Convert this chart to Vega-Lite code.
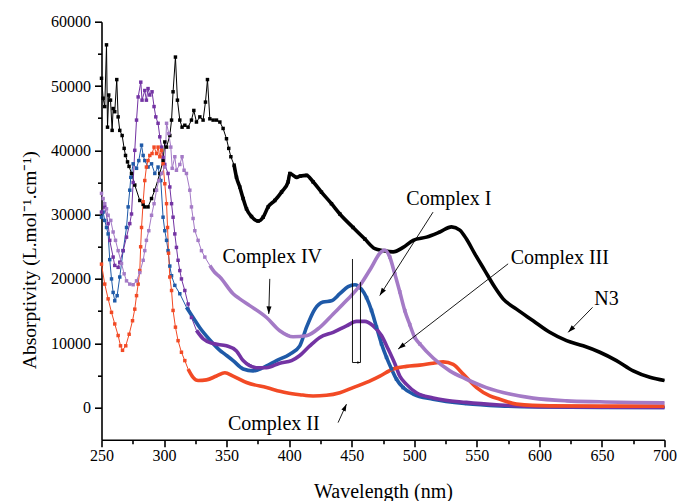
{
  "$schema": "https://vega.github.io/schema/vega-lite/v6.json",
  "width": 563,
  "height": 418,
  "autosize": "none",
  "padding": {"left": 101.5, "top": 21.7, "right": 13.5, "bottom": 61.3},
  "background": "white",
  "config": {
    "view": {"stroke": null},
    "font": "Liberation Serif",
    "axis": {
      "grid": false,
      "domainColor": "black",
      "domainWidth": 1.6,
      "tickColor": "black",
      "tickWidth": 1.6,
      "labelColor": "black",
      "labelFont": "Liberation Serif",
      "labelFontSize": 16,
      "titleFont": "Liberation Serif",
      "titleFontSize": 20,
      "titleFontWeight": "normal",
      "titleColor": "black",
      "labelOverlap": false,
      "labelFlush": false
    }
  },
  "datasets": {
    "spectra": [
      {"s": "N3", "nm": 250, "v": 51200}, {"s": "N3", "nm": 251.3, "v": 48100}, {"s": "N3", "nm": 252.6, "v": 46800},
      {"s": "N3", "nm": 254, "v": 56400}, {"s": "N3", "nm": 254.8, "v": 43600}, {"s": "N3", "nm": 255.8, "v": 48600},
      {"s": "N3", "nm": 257.2, "v": 47800}, {"s": "N3", "nm": 258.5, "v": 43100}, {"s": "N3", "nm": 259.3, "v": 46500},
      {"s": "N3", "nm": 260.6, "v": 46000}, {"s": "N3", "nm": 262.2, "v": 51000}, {"s": "N3", "nm": 263.3, "v": 45200},
      {"s": "N3", "nm": 264.6, "v": 43100}, {"s": "N3", "nm": 266.5, "v": 42300}, {"s": "N3", "nm": 268.1, "v": 40300},
      {"s": "N3", "nm": 269.2, "v": 39200}, {"s": "N3", "nm": 270.8, "v": 38200}, {"s": "N3", "nm": 272, "v": 37500},
      {"s": "N3", "nm": 274, "v": 36400}, {"s": "N3", "nm": 276.6, "v": 34600}, {"s": "N3", "nm": 280.6, "v": 32200},
      {"s": "N3", "nm": 283.3, "v": 31600}, {"s": "N3", "nm": 284.6, "v": 31200}, {"s": "N3", "nm": 287.2, "v": 31200},
      {"s": "N3", "nm": 290, "v": 32500}, {"s": "N3", "nm": 292.6, "v": 33800}, {"s": "N3", "nm": 296.6, "v": 36400},
      {"s": "N3", "nm": 299.2, "v": 38400}, {"s": "N3", "nm": 300.6, "v": 41300}, {"s": "N3", "nm": 302, "v": 40500},
      {"s": "N3", "nm": 304.6, "v": 42300}, {"s": "N3", "nm": 306, "v": 44700}, {"s": "N3", "nm": 307.2, "v": 49100},
      {"s": "N3", "nm": 309.1, "v": 54500}, {"s": "N3", "nm": 310.7, "v": 47800}, {"s": "N3", "nm": 312.6, "v": 44700},
      {"s": "N3", "nm": 314.4, "v": 43600}, {"s": "N3", "nm": 316.6, "v": 43900}, {"s": "N3", "nm": 319.2, "v": 43600},
      {"s": "N3", "nm": 321.9, "v": 44700}, {"s": "N3", "nm": 323.8, "v": 46200}, {"s": "N3", "nm": 325.9, "v": 44400},
      {"s": "N3", "nm": 328.6, "v": 45200}, {"s": "N3", "nm": 331.2, "v": 44700}, {"s": "N3", "nm": 333.1, "v": 47500},
      {"s": "N3", "nm": 334.7, "v": 51000}, {"s": "N3", "nm": 336.6, "v": 44900}, {"s": "N3", "nm": 339.2, "v": 44700},
      {"s": "N3", "nm": 341.9, "v": 44700}, {"s": "N3", "nm": 344.6, "v": 44400}, {"s": "N3", "nm": 347.2, "v": 43400},
      {"s": "N3", "nm": 349.9, "v": 41800}, {"s": "N3", "nm": 351.7, "v": 40300}, {"s": "N3", "nm": 353.4, "v": 39000},
      {"s": "N3", "nm": 356, "v": 37700}, {"s": "N3", "nm": 357.9, "v": 35800}, {"s": "N3", "nm": 360.5, "v": 34300},
      {"s": "N3", "nm": 363.2, "v": 32500}, {"s": "N3", "nm": 365.9, "v": 30900}, {"s": "N3", "nm": 369.9, "v": 29700},
      {"s": "N3", "nm": 375.2, "v": 29000}, {"s": "N3", "nm": 379.2, "v": 29600}, {"s": "N3", "nm": 383.2, "v": 31200},
      {"s": "N3", "nm": 388.5, "v": 32200}, {"s": "N3", "nm": 393.9, "v": 33500}, {"s": "N3", "nm": 399.2, "v": 35100},
      {"s": "N3", "nm": 400.5, "v": 36400}, {"s": "N3", "nm": 405.9, "v": 35800}, {"s": "N3", "nm": 409, "v": 36000},
      {"s": "N3", "nm": 413.9, "v": 36100}, {"s": "N3", "nm": 419.1, "v": 35100}, {"s": "N3", "nm": 425.8, "v": 33500},
      {"s": "N3", "nm": 433.8, "v": 31700}, {"s": "N3", "nm": 440.5, "v": 30100}, {"s": "N3", "nm": 451.1, "v": 28000},
      {"s": "N3", "nm": 460.5, "v": 26200}, {"s": "N3", "nm": 468.5, "v": 24700}, {"s": "N3", "nm": 475.1, "v": 24400},
      {"s": "N3", "nm": 483.1, "v": 24200}, {"s": "N3", "nm": 491.1, "v": 24900}, {"s": "N3", "nm": 499.1, "v": 26000},
      {"s": "N3", "nm": 509.8, "v": 26500}, {"s": "N3", "nm": 520.4, "v": 27300}, {"s": "N3", "nm": 529.8, "v": 28100},
      {"s": "N3", "nm": 536.4, "v": 27600}, {"s": "N3", "nm": 541.7, "v": 26200}, {"s": "N3", "nm": 548.4, "v": 23900},
      {"s": "N3", "nm": 556.4, "v": 21300}, {"s": "N3", "nm": 564.4, "v": 18700}, {"s": "N3", "nm": 571, "v": 16900},
      {"s": "N3", "nm": 581.7, "v": 15300}, {"s": "N3", "nm": 595, "v": 13500}, {"s": "N3", "nm": 608.3, "v": 11700},
      {"s": "N3", "nm": 621.7, "v": 10400}, {"s": "N3", "nm": 635, "v": 9600}, {"s": "N3", "nm": 648.3, "v": 8600},
      {"s": "N3", "nm": 661.6, "v": 7300}, {"s": "N3", "nm": 675, "v": 5700}, {"s": "N3", "nm": 688.3, "v": 4700},
      {"s": "N3", "nm": 700, "v": 4200},

      {"s": "Complex I", "nm": 250, "v": 29600}, {"s": "Complex I", "nm": 251.3, "v": 30400}, {"s": "Complex I", "nm": 252.6, "v": 29100},
      {"s": "Complex I", "nm": 254, "v": 28000}, {"s": "Complex I", "nm": 255.3, "v": 27000}, {"s": "Complex I", "nm": 256.6, "v": 23000},
      {"s": "Complex I", "nm": 258, "v": 20000}, {"s": "Complex I", "nm": 259.3, "v": 17900}, {"s": "Complex I", "nm": 260.6, "v": 16600},
      {"s": "Complex I", "nm": 262.5, "v": 17400}, {"s": "Complex I", "nm": 264.6, "v": 20300}, {"s": "Complex I", "nm": 267.3, "v": 24400},
      {"s": "Complex I", "nm": 270, "v": 28000}, {"s": "Complex I", "nm": 271.3, "v": 31200}, {"s": "Complex I", "nm": 272.6, "v": 33800},
      {"s": "Complex I", "nm": 273.4, "v": 35800}, {"s": "Complex I", "nm": 275.3, "v": 37900}, {"s": "Complex I", "nm": 278, "v": 37200},
      {"s": "Complex I", "nm": 279.8, "v": 38400}, {"s": "Complex I", "nm": 282, "v": 40800}, {"s": "Complex I", "nm": 283.3, "v": 39200},
      {"s": "Complex I", "nm": 284.6, "v": 38400}, {"s": "Complex I", "nm": 287.2, "v": 37400}, {"s": "Complex I", "nm": 290, "v": 37900},
      {"s": "Complex I", "nm": 292.6, "v": 36400}, {"s": "Complex I", "nm": 295.2, "v": 37400}, {"s": "Complex I", "nm": 297.4, "v": 35300},
      {"s": "Complex I", "nm": 299.2, "v": 29600}, {"s": "Complex I", "nm": 300.6, "v": 27500}, {"s": "Complex I", "nm": 302, "v": 26000},
      {"s": "Complex I", "nm": 303.2, "v": 24400}, {"s": "Complex I", "nm": 304.6, "v": 22000}, {"s": "Complex I", "nm": 306, "v": 20500},
      {"s": "Complex I", "nm": 308.6, "v": 19000}, {"s": "Complex I", "nm": 312.6, "v": 17700}, {"s": "Complex I", "nm": 317.9, "v": 15600},
      {"s": "Complex I", "nm": 323.2, "v": 14000}, {"s": "Complex I", "nm": 328.6, "v": 12400}, {"s": "Complex I", "nm": 336.6, "v": 10500},
      {"s": "Complex I", "nm": 344.6, "v": 8900}, {"s": "Complex I", "nm": 348.6, "v": 8300}, {"s": "Complex I", "nm": 355.2, "v": 7300},
      {"s": "Complex I", "nm": 363.2, "v": 6000}, {"s": "Complex I", "nm": 371.2, "v": 5700}, {"s": "Complex I", "nm": 379.2, "v": 6200},
      {"s": "Complex I", "nm": 389.9, "v": 7300}, {"s": "Complex I", "nm": 400.5, "v": 8300}, {"s": "Complex I", "nm": 408.5, "v": 9600},
      {"s": "Complex I", "nm": 413.9, "v": 12500}, {"s": "Complex I", "nm": 420.5, "v": 15300}, {"s": "Complex I", "nm": 427.1, "v": 16400},
      {"s": "Complex I", "nm": 433.8, "v": 16600}, {"s": "Complex I", "nm": 440.5, "v": 17700}, {"s": "Complex I", "nm": 447.1, "v": 18800},
      {"s": "Complex I", "nm": 452.5, "v": 19100}, {"s": "Complex I", "nm": 457.8, "v": 18400}, {"s": "Complex I", "nm": 461.8, "v": 17100},
      {"s": "Complex I", "nm": 465.8, "v": 15100}, {"s": "Complex I", "nm": 469.8, "v": 12500}, {"s": "Complex I", "nm": 473.8, "v": 9900},
      {"s": "Complex I", "nm": 477.8, "v": 7800}, {"s": "Complex I", "nm": 481.8, "v": 6000}, {"s": "Complex I", "nm": 485.8, "v": 4400},
      {"s": "Complex I", "nm": 491.1, "v": 3100}, {"s": "Complex I", "nm": 499.1, "v": 2100}, {"s": "Complex I", "nm": 515, "v": 1300},
      {"s": "Complex I", "nm": 541.7, "v": 600}, {"s": "Complex I", "nm": 568.4, "v": 260}, {"s": "Complex I", "nm": 600, "v": 100},
      {"s": "Complex I", "nm": 650, "v": 30}, {"s": "Complex I", "nm": 700, "v": 0},

      {"s": "Complex III", "nm": 250, "v": 30400}, {"s": "Complex III", "nm": 252.6, "v": 31200}, {"s": "Complex III", "nm": 255.3, "v": 28600},
      {"s": "Complex III", "nm": 256.6, "v": 26000}, {"s": "Complex III", "nm": 259.3, "v": 23400}, {"s": "Complex III", "nm": 260.6, "v": 22100},
      {"s": "Complex III", "nm": 263.3, "v": 21800}, {"s": "Complex III", "nm": 264.6, "v": 22600}, {"s": "Complex III", "nm": 267.3, "v": 24400},
      {"s": "Complex III", "nm": 270, "v": 26500}, {"s": "Complex III", "nm": 272.6, "v": 28600}, {"s": "Complex III", "nm": 274, "v": 30100},
      {"s": "Complex III", "nm": 275.3, "v": 35000}, {"s": "Complex III", "nm": 276.6, "v": 40000}, {"s": "Complex III", "nm": 278, "v": 44700},
      {"s": "Complex III", "nm": 279.3, "v": 48300}, {"s": "Complex III", "nm": 281.4, "v": 50600}, {"s": "Complex III", "nm": 282.4, "v": 47800},
      {"s": "Complex III", "nm": 284.6, "v": 49300}, {"s": "Complex III", "nm": 285.9, "v": 47800}, {"s": "Complex III", "nm": 287.2, "v": 49600},
      {"s": "Complex III", "nm": 288.6, "v": 48600}, {"s": "Complex III", "nm": 290.4, "v": 49100}, {"s": "Complex III", "nm": 292, "v": 46800},
      {"s": "Complex III", "nm": 293.4, "v": 45200}, {"s": "Complex III", "nm": 295.2, "v": 44200}, {"s": "Complex III", "nm": 296.6, "v": 42100},
      {"s": "Complex III", "nm": 298, "v": 40500}, {"s": "Complex III", "nm": 299.2, "v": 38900}, {"s": "Complex III", "nm": 300.6, "v": 37800},
      {"s": "Complex III", "nm": 303.2, "v": 36400}, {"s": "Complex III", "nm": 304.6, "v": 34300}, {"s": "Complex III", "nm": 306, "v": 31700},
      {"s": "Complex III", "nm": 307.2, "v": 29600}, {"s": "Complex III", "nm": 308.6, "v": 27000}, {"s": "Complex III", "nm": 309.9, "v": 24900},
      {"s": "Complex III", "nm": 311.2, "v": 22900}, {"s": "Complex III", "nm": 312.6, "v": 21300}, {"s": "Complex III", "nm": 313.9, "v": 20000},
      {"s": "Complex III", "nm": 316.6, "v": 18200}, {"s": "Complex III", "nm": 319.2, "v": 16100}, {"s": "Complex III", "nm": 321.9, "v": 14000},
      {"s": "Complex III", "nm": 325.9, "v": 12000}, {"s": "Complex III", "nm": 331.2, "v": 10700}, {"s": "Complex III", "nm": 339.2, "v": 9950},
      {"s": "Complex III", "nm": 349.9, "v": 9600}, {"s": "Complex III", "nm": 357.9, "v": 8800}, {"s": "Complex III", "nm": 363.2, "v": 7300},
      {"s": "Complex III", "nm": 373.9, "v": 6200}, {"s": "Complex III", "nm": 381.9, "v": 6200}, {"s": "Complex III", "nm": 392.5, "v": 6900},
      {"s": "Complex III", "nm": 401.9, "v": 7300}, {"s": "Complex III", "nm": 408.5, "v": 8100}, {"s": "Complex III", "nm": 416.5, "v": 9600},
      {"s": "Complex III", "nm": 424.5, "v": 10900}, {"s": "Complex III", "nm": 435.2, "v": 11700}, {"s": "Complex III", "nm": 445.8, "v": 12700},
      {"s": "Complex III", "nm": 453.8, "v": 13400}, {"s": "Complex III", "nm": 460.5, "v": 13400}, {"s": "Complex III", "nm": 467.1, "v": 12700},
      {"s": "Complex III", "nm": 473.8, "v": 11200}, {"s": "Complex III", "nm": 479.1, "v": 9100}, {"s": "Complex III", "nm": 484.5, "v": 6800},
      {"s": "Complex III", "nm": 488.4, "v": 4900}, {"s": "Complex III", "nm": 493.8, "v": 3600}, {"s": "Complex III", "nm": 501.7, "v": 2300},
      {"s": "Complex III", "nm": 515.1, "v": 1500}, {"s": "Complex III", "nm": 541.7, "v": 800}, {"s": "Complex III", "nm": 568.4, "v": 400},
      {"s": "Complex III", "nm": 600, "v": 150}, {"s": "Complex III", "nm": 650, "v": 60}, {"s": "Complex III", "nm": 700, "v": 0},

      {"s": "Complex II", "nm": 250, "v": 22300}, {"s": "Complex II", "nm": 252.6, "v": 19200}, {"s": "Complex II", "nm": 255.3, "v": 16900},
      {"s": "Complex II", "nm": 258, "v": 14800}, {"s": "Complex II", "nm": 260.6, "v": 13000}, {"s": "Complex II", "nm": 263.3, "v": 11200},
      {"s": "Complex II", "nm": 265.2, "v": 9600}, {"s": "Complex II", "nm": 266.8, "v": 8900}, {"s": "Complex II", "nm": 269.4, "v": 9600},
      {"s": "Complex II", "nm": 272.1, "v": 11400}, {"s": "Complex II", "nm": 274.8, "v": 13500}, {"s": "Complex II", "nm": 276.6, "v": 15300},
      {"s": "Complex II", "nm": 278, "v": 17400}, {"s": "Complex II", "nm": 279.3, "v": 19200}, {"s": "Complex II", "nm": 280.6, "v": 21300},
      {"s": "Complex II", "nm": 281.3, "v": 25000}, {"s": "Complex II", "nm": 282, "v": 28000}, {"s": "Complex II", "nm": 283.3, "v": 32000},
      {"s": "Complex II", "nm": 284.6, "v": 35300}, {"s": "Complex II", "nm": 285.9, "v": 37400}, {"s": "Complex II", "nm": 287.2, "v": 38400},
      {"s": "Complex II", "nm": 288.6, "v": 39200}, {"s": "Complex II", "nm": 290.4, "v": 39500}, {"s": "Complex II", "nm": 292, "v": 40500},
      {"s": "Complex II", "nm": 294, "v": 39500}, {"s": "Complex II", "nm": 295.2, "v": 40500}, {"s": "Complex II", "nm": 296.6, "v": 39000},
      {"s": "Complex II", "nm": 298, "v": 40000}, {"s": "Complex II", "nm": 299.2, "v": 37900}, {"s": "Complex II", "nm": 300.6, "v": 34800},
      {"s": "Complex II", "nm": 302, "v": 31700}, {"s": "Complex II", "nm": 302.8, "v": 28000}, {"s": "Complex II", "nm": 303.6, "v": 24000},
      {"s": "Complex II", "nm": 304.6, "v": 20300}, {"s": "Complex II", "nm": 306, "v": 18200}, {"s": "Complex II", "nm": 307.2, "v": 15100},
      {"s": "Complex II", "nm": 309.1, "v": 12500}, {"s": "Complex II", "nm": 311.2, "v": 10400}, {"s": "Complex II", "nm": 313.9, "v": 8600},
      {"s": "Complex II", "nm": 316.6, "v": 7300}, {"s": "Complex II", "nm": 319.2, "v": 6000}, {"s": "Complex II", "nm": 323.2, "v": 4700},
      {"s": "Complex II", "nm": 327.2, "v": 4200}, {"s": "Complex II", "nm": 333.9, "v": 4300}, {"s": "Complex II", "nm": 341.9, "v": 4900},
      {"s": "Complex II", "nm": 348.6, "v": 5400}, {"s": "Complex II", "nm": 355.2, "v": 4900}, {"s": "Complex II", "nm": 365.9, "v": 3900},
      {"s": "Complex II", "nm": 381.9, "v": 3100}, {"s": "Complex II", "nm": 397.9, "v": 2300}, {"s": "Complex II", "nm": 408.5, "v": 2000},
      {"s": "Complex II", "nm": 419.1, "v": 1800}, {"s": "Complex II", "nm": 429.8, "v": 1900}, {"s": "Complex II", "nm": 440.5, "v": 2300},
      {"s": "Complex II", "nm": 451.1, "v": 3100}, {"s": "Complex II", "nm": 461.8, "v": 3900}, {"s": "Complex II", "nm": 472.5, "v": 4900},
      {"s": "Complex II", "nm": 483.1, "v": 6000}, {"s": "Complex II", "nm": 493.8, "v": 6400}, {"s": "Complex II", "nm": 504.4, "v": 6600},
      {"s": "Complex II", "nm": 515.1, "v": 6900}, {"s": "Complex II", "nm": 523.1, "v": 7100}, {"s": "Complex II", "nm": 531.1, "v": 6700},
      {"s": "Complex II", "nm": 539.1, "v": 5200}, {"s": "Complex II", "nm": 549.8, "v": 3100}, {"s": "Complex II", "nm": 560.4, "v": 1800},
      {"s": "Complex II", "nm": 568.4, "v": 1300}, {"s": "Complex II", "nm": 581.7, "v": 530}, {"s": "Complex II", "nm": 608.3, "v": 260},
      {"s": "Complex II", "nm": 650, "v": 220}, {"s": "Complex II", "nm": 700, "v": 220},

      {"s": "Complex IV", "nm": 250, "v": 33300}, {"s": "Complex IV", "nm": 251.3, "v": 32500}, {"s": "Complex IV", "nm": 252.6, "v": 31700},
      {"s": "Complex IV", "nm": 254, "v": 30900}, {"s": "Complex IV", "nm": 255.3, "v": 29900}, {"s": "Complex IV", "nm": 257.4, "v": 29100},
      {"s": "Complex IV", "nm": 259.3, "v": 27300}, {"s": "Complex IV", "nm": 261.2, "v": 26000}, {"s": "Complex IV", "nm": 263.3, "v": 24400},
      {"s": "Complex IV", "nm": 266, "v": 22400}, {"s": "Complex IV", "nm": 268.1, "v": 20800}, {"s": "Complex IV", "nm": 270, "v": 19700},
      {"s": "Complex IV", "nm": 272.6, "v": 19200}, {"s": "Complex IV", "nm": 275.3, "v": 19100}, {"s": "Complex IV", "nm": 278, "v": 19700},
      {"s": "Complex IV", "nm": 280.6, "v": 21000}, {"s": "Complex IV", "nm": 283.3, "v": 22900}, {"s": "Complex IV", "nm": 284.6, "v": 24400},
      {"s": "Complex IV", "nm": 285.9, "v": 26000}, {"s": "Complex IV", "nm": 287.8, "v": 27500}, {"s": "Complex IV", "nm": 290, "v": 29900},
      {"s": "Complex IV", "nm": 292, "v": 31700}, {"s": "Complex IV", "nm": 294, "v": 33800}, {"s": "Complex IV", "nm": 295.8, "v": 35300},
      {"s": "Complex IV", "nm": 298, "v": 36400}, {"s": "Complex IV", "nm": 300.6, "v": 37400}, {"s": "Complex IV", "nm": 302, "v": 44200},
      {"s": "Complex IV", "nm": 303.8, "v": 42600}, {"s": "Complex IV", "nm": 305.4, "v": 40500}, {"s": "Complex IV", "nm": 306.5, "v": 37200},
      {"s": "Complex IV", "nm": 308.6, "v": 39000}, {"s": "Complex IV", "nm": 309.9, "v": 36900}, {"s": "Complex IV", "nm": 312.6, "v": 37800},
      {"s": "Complex IV", "nm": 314.4, "v": 39000}, {"s": "Complex IV", "nm": 316, "v": 36900}, {"s": "Complex IV", "nm": 317.9, "v": 36400},
      {"s": "Complex IV", "nm": 320.6, "v": 33800}, {"s": "Complex IV", "nm": 321.9, "v": 31200}, {"s": "Complex IV", "nm": 323.2, "v": 29400},
      {"s": "Complex IV", "nm": 324.6, "v": 27500}, {"s": "Complex IV", "nm": 327.2, "v": 26000}, {"s": "Complex IV", "nm": 329.9, "v": 24400},
      {"s": "Complex IV", "nm": 332.6, "v": 23400}, {"s": "Complex IV", "nm": 336.6, "v": 22100}, {"s": "Complex IV", "nm": 340.6, "v": 21000},
      {"s": "Complex IV", "nm": 344.6, "v": 20300}, {"s": "Complex IV", "nm": 355.2, "v": 17700}, {"s": "Complex IV", "nm": 360.5, "v": 16900},
      {"s": "Complex IV", "nm": 368.5, "v": 15850}, {"s": "Complex IV", "nm": 381.9, "v": 14000}, {"s": "Complex IV", "nm": 392.5, "v": 11950},
      {"s": "Complex IV", "nm": 403.1, "v": 11000}, {"s": "Complex IV", "nm": 413.8, "v": 11170}, {"s": "Complex IV", "nm": 424.5, "v": 12470},
      {"s": "Complex IV", "nm": 435.2, "v": 14550}, {"s": "Complex IV", "nm": 445.8, "v": 16630}, {"s": "Complex IV", "nm": 456.5, "v": 18970},
      {"s": "Complex IV", "nm": 465.8, "v": 21820}, {"s": "Complex IV", "nm": 472.5, "v": 24000}, {"s": "Complex IV", "nm": 476.4, "v": 24500},
      {"s": "Complex IV", "nm": 480.4, "v": 23400}, {"s": "Complex IV", "nm": 484.4, "v": 20800}, {"s": "Complex IV", "nm": 488.4, "v": 18000},
      {"s": "Complex IV", "nm": 492.4, "v": 15070}, {"s": "Complex IV", "nm": 496.4, "v": 12900}, {"s": "Complex IV", "nm": 500.4, "v": 10900},
      {"s": "Complex IV", "nm": 504.4, "v": 9900}, {"s": "Complex IV", "nm": 515.1, "v": 7700}, {"s": "Complex IV", "nm": 528.4, "v": 5700},
      {"s": "Complex IV", "nm": 541.7, "v": 4400}, {"s": "Complex IV", "nm": 557.7, "v": 3100}, {"s": "Complex IV", "nm": 576.3, "v": 2100},
      {"s": "Complex IV", "nm": 595, "v": 1460}, {"s": "Complex IV", "nm": 621.7, "v": 1040}, {"s": "Complex IV", "nm": 648.3, "v": 890},
      {"s": "Complex IV", "nm": 675, "v": 780}, {"s": "Complex IV", "nm": 700, "v": 730}
    ],
    "labels": [
      {"t": "Complex I", "nm": 527.6, "v": 32500},
      {"t": "Complex III", "nm": 616.3, "v": 23300},
      {"t": "Complex IV", "nm": 386.5, "v": 23400},
      {"t": "Complex II", "nm": 387.7, "v": -2600},
      {"t": "N3", "nm": 653.6, "v": 16900}
    ],
    "arrows": [
      {"id": "Complex I", "nm": 515.0, "v": 30390, "nm2": 472.4, "v2": 17410},
      {"id": "Complex III", "nm": 575.0, "v": 22350, "nm2": 487.1, "v2": 9100},
      {"id": "N3", "nm": 642.5, "v": 15580, "nm2": 623.0, "v2": 11690},
      {"id": "Complex IV", "nm": 384.5, "v": 20010, "nm2": 383.7, "v2": 14550},
      {"id": "Complex II", "nm": 439.1, "v": -2340, "nm2": 445.8, "v2": 530},
      {"id": "shift", "nm": 450.6, "v": 7000, "nm2": 457.0, "v2": 7000}
    ],
    "bands": [
      {"nm": 450.6, "top": 23100, "bottom": 7000},
      {"nm": 457.0, "top": 19500, "bottom": 7000}
    ]
  },
  "resolve": {"axis": {"x": "independent", "y": "independent"}},
  "layer": [
    {
      "data": {"name": "labels"},
      "mark": {"type": "text", "opacity": 0},
      "encoding": {
        "text": {"field": "t"},
        "x": {"field": "nm", "type": "quantitative", "scale": {"domain": [250, 700], "nice": false, "zero": false},
              "axis": {"orient": "bottom", "values": [275, 325, 375, 425, 475, 525, 575, 625, 675], "tickSize": 4, "labels": false, "domain": false, "title": null}},
        "y": {"field": "v", "type": "quantitative", "scale": {"domain": [-5000, 60000], "nice": false, "zero": false},
              "axis": {"orient": "left", "values": [5000, 15000, 25000, 35000, 45000, 55000], "tickSize": 4, "labels": false, "domain": false, "title": null}}
      }
    },
    {
      "data": {"name": "spectra"},
      "mark": {"type": "line", "strokeWidth": 1},
      "encoding": {
        "x": {"field": "nm", "type": "quantitative",
              "axis": {"orient": "bottom", "values": [250, 300, 350, 400, 450, 500, 550, 600, 650, 700], "tickSize": 7, "labelPadding": 1, "title": "Wavelength (nm)", "titlePadding": 18}},
        "y": {"field": "v", "type": "quantitative",
              "axis": {"orient": "left", "values": [0, 10000, 20000, 30000, 40000, 50000, 60000], "format": "d", "tickSize": 7, "labelPadding": 4,
                       "title": "Absorptivity (L.mol⁻¹.cm⁻¹)", "titleFontSize": 19.5, "titlePadding": 11, "titleY": 238}},
        "color": {"field": "s", "type": "nominal", "legend": null,
                  "scale": {"domain": ["N3", "Complex I", "Complex III", "Complex II", "Complex IV"],
                            "range": ["#000000", "#1f5aa8", "#7333a3", "#f24a25", "#a47ac6"]}},
        "order": {"field": "nm", "type": "quantitative"}
      }
    },
    {
      "data": {"name": "spectra"},
      "transform": [{"filter": "(datum.s==='N3'&&datum.nm>=356)||(datum.s==='Complex I'&&datum.nm>=317)||(datum.s==='Complex II'&&datum.nm>=319)||(datum.s==='Complex III'&&datum.nm>=325)||(datum.s==='Complex IV'&&datum.nm>=336)"}],
      "mark": {"type": "line", "strokeWidth": 3.6, "interpolate": "monotone"},
      "encoding": {
        "x": {"field": "nm", "type": "quantitative", "axis": null},
        "y": {"field": "v", "type": "quantitative", "axis": null},
        "color": {"field": "s", "type": "nominal", "legend": null},
        "order": {"field": "nm", "type": "quantitative"}
      }
    },
    {
      "data": {"name": "spectra"},
      "transform": [{"filter": "(datum.s==='N3'&&datum.nm<=468)||(datum.s==='Complex I'&&(datum.nm<=317||(datum.nm>=460&&datum.nm<=492)))||(datum.s==='Complex II'&&datum.nm<=319)||(datum.s==='Complex III'&&datum.nm<=325)||(datum.s==='Complex IV'&&(datum.nm<=336||(datum.nm>=478&&datum.nm<=505)))"}],
      "mark": {"type": "point", "shape": "square", "filled": true, "size": 12, "opacity": 1},
      "encoding": {
        "x": {"field": "nm", "type": "quantitative", "axis": null},
        "y": {"field": "v", "type": "quantitative", "axis": null},
        "color": {"field": "s", "type": "nominal", "legend": null}
      }
    },
    {
      "data": {"name": "bands"},
      "mark": {"type": "rule", "color": "black", "strokeWidth": 0.9},
      "encoding": {
        "x": {"field": "nm", "type": "quantitative", "axis": null},
        "y": {"field": "top", "type": "quantitative", "axis": null},
        "y2": {"field": "bottom"}
      }
    },
    {
      "data": {"name": "arrows"},
      "mark": {"type": "rule", "color": "black", "strokeWidth": 0.9},
      "encoding": {
        "x": {"field": "nm", "type": "quantitative", "axis": null},
        "y": {"field": "v", "type": "quantitative", "axis": null},
        "x2": {"field": "nm2"},
        "y2": {"field": "v2"}
      }
    },
    {
      "data": {"name": "arrows"},
      "transform": [{"filter": "datum.id==='Complex I'"}],
      "mark": {"type": "point", "shape": "M0,0L-0.33,1L0.33,1Z", "filled": true, "color": "black", "opacity": 1, "size": 230, "angle": 212.6},
      "encoding": {"x": {"field": "nm2", "type": "quantitative", "axis": null}, "y": {"field": "v2", "type": "quantitative", "axis": null}}
    },
    {
      "data": {"name": "arrows"},
      "transform": [{"filter": "datum.id==='Complex III'"}],
      "mark": {"type": "point", "shape": "M0,0L-0.33,1L0.33,1Z", "filled": true, "color": "black", "opacity": 1, "size": 230, "angle": 232.3},
      "encoding": {"x": {"field": "nm2", "type": "quantitative", "axis": null}, "y": {"field": "v2", "type": "quantitative", "axis": null}}
    },
    {
      "data": {"name": "arrows"},
      "transform": [{"filter": "datum.id==='N3'"}],
      "mark": {"type": "point", "shape": "M0,0L-0.33,1L0.33,1Z", "filled": true, "color": "black", "opacity": 1, "size": 230, "angle": 224.3},
      "encoding": {"x": {"field": "nm2", "type": "quantitative", "axis": null}, "y": {"field": "v2", "type": "quantitative", "axis": null}}
    },
    {
      "data": {"name": "arrows"},
      "transform": [{"filter": "datum.id==='Complex IV'"}],
      "mark": {"type": "point", "shape": "M0,0L-0.33,1L0.33,1Z", "filled": true, "color": "black", "opacity": 1, "size": 230, "angle": 181.6},
      "encoding": {"x": {"field": "nm2", "type": "quantitative", "axis": null}, "y": {"field": "v2", "type": "quantitative", "axis": null}}
    },
    {
      "data": {"name": "arrows"},
      "transform": [{"filter": "datum.id==='Complex II'"}],
      "mark": {"type": "point", "shape": "M0,0L-0.33,1L0.33,1Z", "filled": true, "color": "black", "opacity": 1, "size": 200, "angle": 24.5},
      "encoding": {"x": {"field": "nm2", "type": "quantitative", "axis": null}, "y": {"field": "v2", "type": "quantitative", "axis": null}}
    },
    {
      "data": {"name": "arrows"},
      "transform": [{"filter": "datum.id==='shift'"}],
      "mark": {"type": "point", "shape": "M0,0L-0.4,1L0.4,1Z", "filled": true, "color": "black", "opacity": 1, "size": 40, "angle": 90},
      "encoding": {"x": {"field": "nm2", "type": "quantitative", "axis": null}, "y": {"field": "v2", "type": "quantitative", "axis": null}}
    },
    {
      "data": {"name": "labels"},
      "mark": {"type": "text", "font": "Liberation Serif", "fontSize": 20, "color": "black", "align": "center", "baseline": "middle"},
      "encoding": {
        "text": {"field": "t"},
        "x": {"field": "nm", "type": "quantitative", "axis": null},
        "y": {"field": "v", "type": "quantitative", "axis": null}
      }
    }
  ]
}
